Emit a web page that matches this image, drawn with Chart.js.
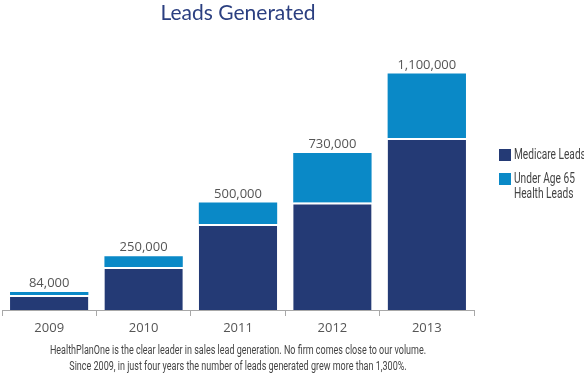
<!DOCTYPE html>
<html>
<head>
<meta charset="utf-8">
<script src="https://cdn.jsdelivr.net/npm/chart.js@4/dist/chart.umd.min.js"></script>
<style>
  html, body { margin: 0; padding: 0; background: #fff; }
  #wrap { width: 584px; height: 375px; position: relative; }
</style>
</head>
<body>
<div id="wrap"><canvas id="c" width="584" height="375"></canvas></div>
<script>
const years = ['2009', '2010', '2011', '2012', '2013'];
const medicareLeads = [70000, 200000, 400000, 500000, 800000];
const under65Leads = [14000, 50000, 100000, 230000, 300000];
const seriesNames = ['Medicare Leads', ['Under Age 65', 'Health Leads']];
const titleText = 'Leads Generated';
const footnoteLines = [
  'HealthPlanOne is the clear leader in sales lead generation. No firm comes close to our volume.',
  'Since 2009, in just four years the number of leads generated grew more than 1,300%.'
];

const NAVY = '#243a75';
const BLUE = '#0a89c7';
const NARROW = 'Roboto, "Open Sans", sans-serif';

function narrowText(ctx, text, x, y, sx, align) {
  ctx.save();
  ctx.translate(x, y);
  ctx.scale(sx, 1);
  ctx.textAlign = align;
  ctx.fillText(text, 0, 0);
  ctx.restore();
}

const extras = {
  id: 'extras',
  afterDatasetsDraw(chart) {
    const ctx = chart.ctx;
    const area = chart.chartArea;
    const cx = (area.left + area.right) / 2;
    ctx.save();
    // totals above bars
    const topMeta = chart.getDatasetMeta(1);
    ctx.font = '13px "Open Sans", sans-serif';
    ctx.fillStyle = '#555';
    ctx.textAlign = 'center';
    ctx.textBaseline = 'bottom';
    topMeta.data.forEach((bar, i) => {
      const total = medicareLeads[i] + under65Leads[i];
      ctx.fillText(total.toLocaleString('en-US'), bar.x, bar.y - 2);
    });
    // title
    ctx.font = '21px Lato, "Open Sans", sans-serif';
    ctx.fillStyle = '#2b3f80';
    ctx.textBaseline = 'middle';
    ctx.fillText(titleText, cx, 13);
    // footnote (condensed)
    ctx.font = '12.5px ' + NARROW;
    ctx.fillStyle = '#444';
    const fsx = 0.72;
    narrowText(ctx, footnoteLines[0], cx, 351, fsx, 'center');
    narrowText(ctx, footnoteLines[1], cx, 367, fsx, 'center');
    // legend
    const lx = area.right + 25;
    const colors = [NAVY, BLUE];
    const boxY = [149, 173];
    ctx.font = '14.5px ' + NARROW;
    seriesNames.forEach((name, k) => {
      ctx.fillStyle = colors[k];
      ctx.fillRect(lx, boxY[k], 12, 12);
      ctx.fillStyle = '#444';
      const lines = Array.isArray(name) ? name : [name];
      lines.forEach((ln, j) => {
        narrowText(ctx, ln, lx + 15, boxY[k] + 6 + j * 15, 0.7, 'left');
      });
    });
    ctx.restore();
  }
};

new Chart(document.getElementById('c'), {
  type: 'bar',
  data: {
    labels: years,
    datasets: [
      {
        label: 'Medicare Leads',
        data: medicareLeads,
        backgroundColor: NAVY,
        borderColor: '#ffffff',
        borderWidth: { top: 2, left: 0, right: 0, bottom: 0 },
        borderSkipped: false,
        categoryPercentage: 1,
        barPercentage: 0.83
      },
      {
        label: 'Under Age 65 Health Leads',
        data: under65Leads,
        backgroundColor: BLUE,
        borderWidth: 0,
        categoryPercentage: 1,
        barPercentage: 0.83
      }
    ]
  },
  options: {
    responsive: false,
    animation: false,
    layout: { padding: { top: 52, left: 2, right: 110, bottom: 0 } },
    plugins: {
      legend: { display: false },
      title: { display: false },
      tooltip: { enabled: false }
    },
    scales: {
      x: {
        stacked: true,
        afterFit(scale) { scale.height = 65; },
        grid: {
          display: true,
          drawOnChartArea: false,
          drawTicks: true,
          tickLength: 6,
          color: '#a8a8a8',
          offset: true
        },
        border: { display: true, color: '#a8a8a8', width: 1 },
        ticks: {
          color: '#555',
          font: { family: '"Open Sans", sans-serif', size: 13 },
          padding: 4
        }
      },
      y: {
        stacked: true,
        display: false,
        min: 0,
        max: 1200000
      }
    }
  },
  plugins: [extras]
});
</script>
</body>
</html>
